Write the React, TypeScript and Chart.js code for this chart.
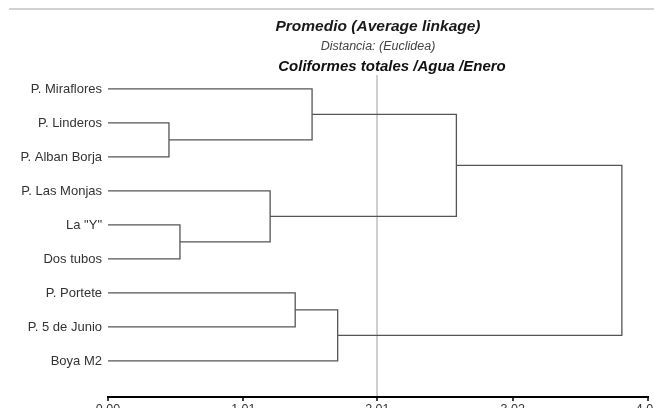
import React, { useEffect, useRef } from 'react';
import { Chart, registerables } from 'chart.js';

Chart.register(...registerables);

// Leaves (top to bottom)
const leaves = [
  'P. Miraflores',
  'P. Linderos',
  'P. Alban Borja',
  'P. Las Monjas',
  'La "Y"',
  'Dos tubos',
  'P. Portete',
  'P. 5 de Junio',
  'Boya M2',
];

// Merges: node ids 0..8 are leaves, merge i creates node 9 + i
const mergeLeft = [1, 4, 6, 3, 0, 11, 13, 15];
const mergeRight = [2, 5, 7, 10, 9, 8, 12, 14];
const mergeHeight = [0.455, 0.537, 1.397, 1.21, 1.523, 1.714, 2.6, 3.835];

const xTicks = [0, 1.01, 2.01, 3.02, 4.03];
const cutHeight = 2.01;

const titleMain = 'Promedio (Average linkage)';
const titleDist = 'Distancia: (Euclidea)';
const titleVar = 'Coliformes totales /Agua /Enero';

const W = 690;
const H = 440;
const FONT = '"Liberation Sans", Arial, sans-serif';

function buildDatasets() {
  const nx: number[] = leaves.map(() => 0);
  const ny: number[] = leaves.map((_, i) => i);
  const datasets: any[] = [];
  mergeHeight.forEach((h, i) => {
    const a = mergeLeft[i];
    const b = mergeRight[i];
    datasets.push({
      data: [
        { x: nx[a], y: ny[a] },
        { x: h, y: ny[a] },
        { x: h, y: ny[b] },
        { x: nx[b], y: ny[b] },
      ],
      showLine: true,
      borderColor: '#555',
      borderWidth: 1.3,
      pointRadius: 0,
      fill: false,
      tension: 0,
    });
    nx.push(h);
    ny.push((ny[a] + ny[b]) / 2);
  });
  return datasets;
}

const decorPlugin = {
  id: 'decor',
  beforeDraw(chart: any) {
    const ctx = chart.ctx;
    ctx.save();
    ctx.strokeStyle = '#d2d2d2';
    ctx.lineWidth = 2;
    ctx.beginPath();
    ctx.moveTo(9, 9);
    ctx.lineTo(654, 9);
    ctx.stroke();
    ctx.restore();
  },
  afterDraw(chart: any) {
    const ctx = chart.ctx;
    const cx = (chart.chartArea.left + chart.chartArea.right) / 2;
    ctx.save();
    ctx.textAlign = 'center';
    ctx.textBaseline = 'alphabetic';
    ctx.fillStyle = '#1a1a1a';
    ctx.font = `italic bold 15.5px ${FONT}`;
    ctx.fillText(titleMain, cx, 31);
    ctx.fillStyle = '#444';
    ctx.font = `italic 12.5px ${FONT}`;
    ctx.fillText(titleDist, cx, 50);
    ctx.fillStyle = '#111';
    ctx.font = `italic bold 15px ${FONT}`;
    ctx.fillText(titleVar, cx + 14, 71);
    ctx.restore();
  },
};

export default function App() {
  const ref = useRef<HTMLCanvasElement | null>(null);

  useEffect(() => {
    if (!ref.current) return;
    const chart = new Chart(ref.current, {
      type: 'scatter',
      data: { datasets: buildDatasets() },
      options: {
        animation: false,
        responsive: false,
        devicePixelRatio: 1,
        layout: { padding: { top: 75, right: W - 648, bottom: 0, left: 0 } },
        plugins: {
          legend: { display: false },
          tooltip: { enabled: false },
          title: { display: false },
        },
        scales: {
          x: {
            type: 'linear',
            min: 0,
            max: 4.03,
            afterBuildTicks: (s: any) => {
              s.ticks = xTicks.map((v) => ({ value: v }));
            },
            afterFit: (s: any) => {
              s.height = H - 397;
            },
            ticks: {
              autoSkip: false,
              maxRotation: 0,
              padding: 1,
              color: '#333',
              font: { family: FONT, size: 12.5 },
              callback: (v: any) => Number(v).toFixed(2),
            },
            grid: {
              drawOnChartArea: true,
              drawTicks: true,
              tickLength: 4,
              tickColor: '#000',
              tickWidth: 1.5,
              lineWidth: 2,
              color: (c: any) =>
                c.tick && Math.abs(c.tick.value - cutHeight) < 1e-6 ? '#cfcfcf' : 'rgba(0,0,0,0)',
            },
            border: { display: true, color: '#000', width: 2 },
          },
          y: {
            type: 'linear',
            reverse: true,
            min: -0.41,
            max: 9.06,
            afterBuildTicks: (s: any) => {
              s.ticks = leaves.map((_, i) => ({ value: i }));
            },
            afterFit: (s: any) => {
              s.width = 108;
            },
            ticks: {
              autoSkip: false,
              padding: 6,
              color: '#333',
              font: { family: FONT, size: 13 },
              callback: (v: any) => leaves[v] ?? '',
            },
            grid: { display: false, drawTicks: false },
            border: { display: false },
          },
        },
      },
      plugins: [decorPlugin],
    } as any);
    return () => chart.destroy();
  }, []);

  return (
    <div
      style={{
        position: 'absolute',
        left: 0,
        top: 0,
        width: 654,
        height: 408,
        overflow: 'hidden',
        background: '#fff',
      }}
    >
      <canvas ref={ref} width={W} height={H} style={{ width: W, height: H, display: 'block' }} />
    </div>
  );
}
